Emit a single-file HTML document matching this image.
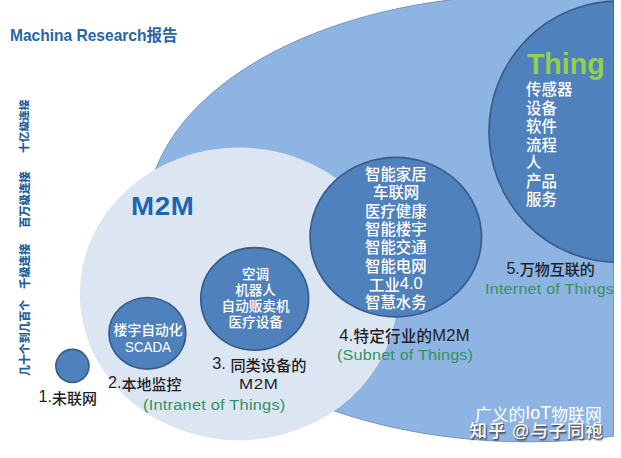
<!DOCTYPE html>
<html><head><meta charset="utf-8">
<style>
html,body{margin:0;padding:0;background:#fff;}
body{width:621px;height:458px;overflow:hidden;position:relative;font-family:"Liberation Sans","Noto Sans CJK SC",sans-serif;}
svg{position:absolute;left:0;top:0;}
.t{position:absolute;white-space:nowrap;line-height:1;}
.w{color:#fff;font-weight:500;}
.k{color:#1e1e1e;font-weight:500;}
.g{color:#33925f;}
.b{color:#1c66b0;font-weight:bold;}
#title{color:#2866a8;}
.lt{position:relative;top:-1.3px;font-size:1.07em;}
.thing{color:#92d050;font-weight:bold;}
.v{transform-origin:0 0;transform:rotate(-90deg);font-weight:900;color:#1f5f9c;}
</style></head>
<body>
<svg width="621" height="458" viewBox="0 0 621 458">
  <ellipse cx="528.1" cy="218.5" rx="381.9" ry="223.3" fill="#8eb4e3" stroke="#7694c0" stroke-width="1"/>
  <ellipse cx="618.1" cy="131.7" rx="129.1" ry="130.6" fill="#4f81bd" stroke="#385d8a" stroke-width="1.7"/>
  <ellipse cx="238.8" cy="293.9" rx="159.05" ry="146.35" fill="#dce6f2"/>
  <circle cx="72.4" cy="365.9" r="16.5" fill="#4f81bd" stroke="#385d8a" stroke-width="1.7"/>
  <ellipse cx="147.4" cy="333.3" rx="38.4" ry="35.8" fill="#4f81bd" stroke="#385d8a" stroke-width="1.7"/>
  <ellipse cx="254.7" cy="298.9" rx="53.9" ry="51.3" fill="#4f81bd" stroke="#385d8a" stroke-width="1.7"/>
  <ellipse cx="395.8" cy="237.1" rx="85.75" ry="79.7" fill="#4f81bd" stroke="#385d8a" stroke-width="1.7"/>
  <rect x="613" y="0" width="1" height="435" fill="#1e3c6e" opacity=".22"/>
  <rect x="614" y="0" width="7" height="458" fill="#fff"/>
</svg>
<div class="t b" id="title" style="left:9.5px;top:27.3px;font-size:16.2px;letter-spacing:0px;transform:scaleX(0.96);transform-origin:0 0;">Machina Research报告</div>
<div class="t v" id="v1" style="left:20.0px;top:376.1px;font-size:10.9px;">几十个到几百个</div>
<div class="t v" id="v2" style="left:20.0px;top:288.7px;font-size:11.3px;">千级连接</div>
<div class="t v" id="v3" style="left:20.0px;top:227.9px;font-size:11.3px;">百万级连接</div>
<div class="t v" id="v4" style="left:19.0px;top:152.7px;font-size:10.7px;">十亿级连接</div>
<div class="t b" id="m2m" style="left:131.4px;top:193.9px;font-size:25px;letter-spacing:0.6px;transform:scaleX(1.105);transform-origin:0 0;">M2M</div>
<div class="t k" id="n1" style="left:38.6px;top:389.5px;font-size:15px;"><span class="lt">1.</span>未联网</div>
<div class="t w" id="s1" style="left:113.6px;top:323.7px;font-size:13.8px;">楼宇自动化</div>
<div class="t w" id="s2" style="left:124.9px;top:339.8px;font-size:14.2px;transform:scaleX(0.94);transform-origin:0 0;">SCADA</div>
<div class="t w" id="k1" style="left:242.0px;top:267.6px;font-size:13.6px;">空调</div>
<div class="t w" id="k2" style="left:235.2px;top:283.7px;font-size:13.6px;">机器人</div>
<div class="t w" id="k3" style="left:221.6px;top:300.1px;font-size:13.6px;">自动贩卖机</div>
<div class="t w" id="k4" style="left:228.5px;top:316.2px;font-size:13.6px;">医疗设备</div>
<div class="t w" id="z0" style="left:365.0px;top:166.8px;font-size:15.4px;">智能家居</div>
<div class="t w" id="z1" style="left:373.0px;top:184.8px;font-size:15.4px;">车联网</div>
<div class="t w" id="z2" style="left:365.0px;top:203.9px;font-size:15.4px;">医疗健康</div>
<div class="t w" id="z3" style="left:365.0px;top:221.8px;font-size:15.4px;">智能楼宇</div>
<div class="t w" id="z4" style="left:365.0px;top:240.4px;font-size:15.4px;">智能交通</div>
<div class="t w" id="z5" style="left:365.0px;top:258.6px;font-size:15.4px;">智能电网</div>
<div class="t w" id="z6" style="left:369.0px;top:276.5px;font-size:15.4px;">工业<span class="lt">4.0</span></div>
<div class="t w" id="z7" style="left:365.0px;top:294.7px;font-size:15.4px;">智慧水务</div>
<div class="t thing" id="thing" style="left:526.9px;top:49.5px;font-size:28.6px;">Thing</div>
<div class="t w" id="t0" style="left:526.1px;top:82.0px;font-size:15.4px;">传感器</div>
<div class="t w" id="t1" style="left:526.1px;top:100.5px;font-size:15.4px;">设备</div>
<div class="t w" id="t2" style="left:526.1px;top:119.1px;font-size:15.4px;">软件</div>
<div class="t w" id="t3" style="left:526.1px;top:137.7px;font-size:15.4px;">流程</div>
<div class="t w" id="t4" style="left:526.1px;top:155.2px;font-size:15.4px;">人</div>
<div class="t w" id="t5" style="left:526.1px;top:173.7px;font-size:15.4px;">产品</div>
<div class="t w" id="t6" style="left:526.1px;top:192.3px;font-size:15.4px;">服务</div>
<div class="t k" id="n2" style="left:108.1px;top:375.5px;font-size:15px;"><span class="lt">2.</span>本地监控</div>
<div class="t k" id="n3a" style="left:212.3px;top:356.7px;font-size:15.2px;"><span class="lt">3. </span>同类设备的</div>
<div class="t k" id="n3b" style="left:238.8px;top:375.6px;font-size:15px;letter-spacing:0.5px;transform:scaleX(1.13);transform-origin:0 0;">M2M</div>
<div class="t g" id="n3g" style="left:142.5px;top:397.0px;font-size:15.5px;letter-spacing:0.2px;transform:scaleX(1.058);transform-origin:0 0;">(Intranet of Things)</div>
<div class="t k" id="n4" style="left:339.3px;top:328.9px;font-size:15.5px;letter-spacing:0.22px;"><span class="lt">4.</span>特定行业的<span class="lt">M2M</span></div>
<div class="t g" id="n4g" style="left:336.6px;top:346.7px;font-size:15.5px;letter-spacing:0.15px;transform:scaleX(1.048);transform-origin:0 0;">(Subnet of Things)</div>
<div class="t k" id="n5" style="left:506.4px;top:260.9px;font-size:15px;"><span class="lt">5.</span>万物互联的</div>
<div class="t g" id="n5g" style="left:485.1px;top:280.5px;font-size:15.5px;letter-spacing:0.3px;transform:scaleX(1.027);transform-origin:0 0;">Internet of Things</div>
<div class="t w" id="gy" style="left:475.0px;top:406.6px;font-size:16.8px;font-weight:400;">广义的<span class="lt">IoT</span>物联网</div>
<div class="t w" id="zh" style="left:469.6px;top:422.6px;font-size:17.5px;letter-spacing:0.8px;text-shadow:1px 1px 0 #5a5a5a,1px 1.5px 1.5px rgba(0,0,0,.45);">知乎 @与子同袍</div>
</body></html>
